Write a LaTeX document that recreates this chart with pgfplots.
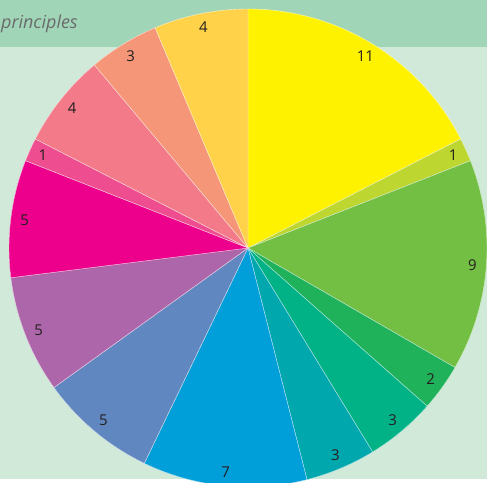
\documentclass[border=0pt]{standalone}
\usepackage{pgfplots}
\usepackage{pgfplotstable}
\pgfplotsset{compat=1.18}
\usepackage{fontspec}
\setmainfont{Open Sans}
\definecolor{bgl}{HTML}{D0E9D8}
\definecolor{bgh}{HTML}{A0D5B8}
\definecolor{c1}{HTML}{FFF200}
\definecolor{c2}{HTML}{BDD630}
\definecolor{c3}{HTML}{72BF44}
\definecolor{c4}{HTML}{1FB25A}
\definecolor{c5}{HTML}{00B286}
\definecolor{c6}{HTML}{00A8AE}
\definecolor{c7}{HTML}{009FD9}
\definecolor{c8}{HTML}{6187C0}
\definecolor{c9}{HTML}{AE66AA}
\definecolor{c10}{HTML}{EC008C}
\definecolor{c11}{HTML}{EE4D8F}
\definecolor{c12}{HTML}{F37A89}
\definecolor{c13}{HTML}{F69679}
\definecolor{c14}{HTML}{FFD24A}
\definecolor{txt}{HTML}{231F20}
\pgfplotstableread{
v c
11 c1
1 c2
9 c3
2 c4
3 c5
3 c6
7 c7
5 c8
5 c9
5 c10
1 c11
4 c12
3 c13
4 c14
}\piedata
\begin{document}
\begin{tikzpicture}
\begin{axis}[
  x=1bp, y=1bp, scale only axis, hide axis,
  xmin=-248, xmax=239, ymin=-235, ymax=248,
  clip=true,
]
\addplot[fill=white, draw=none] coordinates {(-248,-235) (239,-235) (239,248) (-248,248)} -- cycle;
\addplot[fill=bgl, draw=none] coordinates {(-248,-231) (239,-231) (239,248) (-248,248)} -- cycle;
\addplot[fill=bgh, draw=none] coordinates {(-248,201) (239,201) (239,248) (-248,248)} -- cycle;
\node[anchor=west, text=black!58, inner sep=0pt, font=\fontsize{18}{21}\selectfont\itshape] at (axis cs:-247,224) {principles};
\pgfplotstablegetrowsof{\piedata}
\pgfmathtruncatemacro\nrows{\pgfplotsretval-1}
\def\total{0}
\pgfplotsforeachungrouped \i in {0,...,\nrows}{%
  \pgfplotstablegetelem{\i}{v}\of\piedata
  \pgfmathsetmacro\total{\total+\pgfplotsretval}%
}
\pgfmathsetmacro\unit{360/\total}
\def\cum{0}
\pgfplotsforeachungrouped \i in {0,...,\nrows}{%
  \pgfplotstablegetelem{\i}{v}\of\piedata \let\val=\pgfplotsretval
  \pgfplotstablegetelem{\i}{c}\of\piedata \let\col=\pgfplotsretval
  \pgfmathsetmacro\a{90-\cum*\unit}%
  \pgfmathsetmacro\b{90-(\cum+\val)*\unit}%
  \pgfmathsetmacro\m{(\a+\b)/2}%
  \pgfmathsetmacro\xa{239*cos(\a)}%
  \pgfmathsetmacro\ya{239*sin(\a)}%
  \pgfmathsetmacro\xm{225*cos(\m)}%
  \pgfmathsetmacro\ym{225*sin(\m)}%
  \edef\temp{\noexpand\fill[\col, draw=white!70!\col, line width=0.4bp] (axis cs:0,0) -- (axis cs:\xa,\ya) arc[start angle=\a, end angle=\b, radius=239bp] -- cycle;
  \noexpand\node[text=txt, font=\noexpand\fontsize{15}{18}\noexpand\selectfont] at (axis cs:\xm,\ym) {\val};}%
  \temp
  \pgfmathsetmacro\cum{\cum+\val}%
}
\end{axis}
\end{tikzpicture}
\end{document}
